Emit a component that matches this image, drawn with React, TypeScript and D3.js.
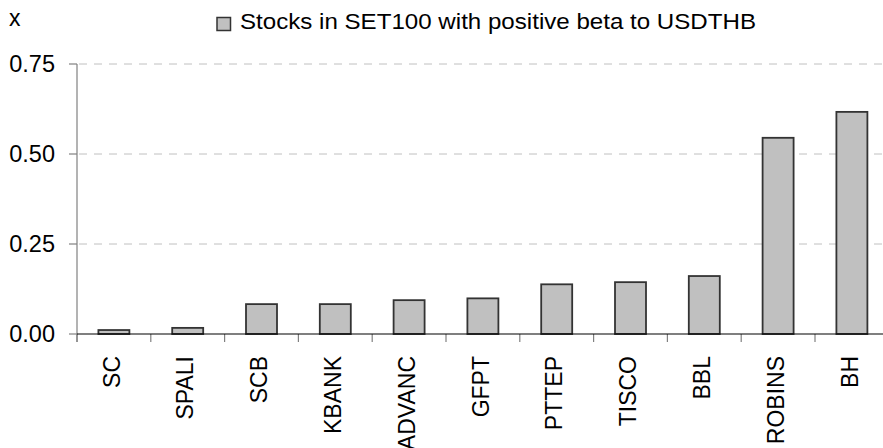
import React, { useRef, useEffect } from 'react';
import * as d3 from 'd3';

// ─── Data ────────────────────────────────────────────────────────────────────
const categories = ['SC', 'SPALI', 'SCB', 'KBANK', 'ADVANC', 'GFPT', 'PTTEP', 'TISCO', 'BBL', 'ROBINS', 'BH'];
const betaValues = [0.011, 0.017, 0.083, 0.083, 0.094, 0.099, 0.138, 0.144, 0.161, 0.545, 0.617];
const yTicks = [0, 0.25, 0.5, 0.75];
const seriesName = 'Stocks in SET100 with positive beta to USDTHB';
const unitLabel = 'x';

const WIDTH = 883;
const HEIGHT = 448;
const FONT = 'Arial, "Liberation Sans", sans-serif';

const BetaChart: React.FC = () => {
    const ref = useRef<SVGSVGElement | null>(null);

    useEffect(() => {
        if (!ref.current) return;
        const svg = d3.select(ref.current);
        svg.selectAll('*').remove();

        // ─── geometry ──────────────────────────────────────────────────────────
        const left = 77;
        const bandW = 73.8;
        const x = d3.scaleBand<string>()
            .domain(categories)
            .range([left, left + bandW * categories.length])
            .padding(0);
        const y = d3.scaleLinear().domain([0, 0.75]).range([334, 64]);
        const barW = x.bandwidth() * 0.42;
        const right = WIDTH;

        // ─── gridlines ─────────────────────────────────────────────────────────
        svg.append('g')
            .selectAll('line')
            .data(yTicks.filter(t => t > 0))
            .enter()
            .append('line')
            .attr('x1', left + 2)
            .attr('x2', right)
            .attr('y1', d => y(d))
            .attr('y2', d => y(d))
            .attr('stroke', '#c0c0c0')
            .attr('stroke-width', 1)
            .attr('stroke-dasharray', '8,7');

        // ─── bars ──────────────────────────────────────────────────────────────
        svg.append('g')
            .selectAll('rect')
            .data(betaValues)
            .enter()
            .append('rect')
            .attr('x', (_, i) => (x(categories[i]) as number) + (x.bandwidth() - barW) / 2)
            .attr('y', d => y(d))
            .attr('width', barW)
            .attr('height', d => y(0) - y(d))
            .attr('fill', '#c0c0c0')
            .attr('stroke', '#333333')
            .attr('stroke-width', 1.8);

        // ─── y axis ────────────────────────────────────────────────────────────
        const yAxis = svg.append('g');
        yAxis.append('line')
            .attr('x1', left).attr('x2', left)
            .attr('y1', y(0.75)).attr('y2', y(0) + 8)
            .attr('stroke', '#808080').attr('stroke-width', 1.2);
        yAxis.selectAll('line.tick')
            .data(yTicks)
            .enter()
            .append('line')
            .attr('class', 'tick')
            .attr('x1', left - 8).attr('x2', left)
            .attr('y1', d => y(d)).attr('y2', d => y(d))
            .attr('stroke', '#808080').attr('stroke-width', 1.2);
        yAxis.selectAll('text')
            .data(yTicks)
            .enter()
            .append('text')
            .attr('x', 55)
            .attr('y', d => y(d))
            .attr('dy', '0.35em')
            .attr('text-anchor', 'end')
            .style('font-family', FONT)
            .style('font-size', '23.5px')
            .style('fill', '#000')
            .text(d => d3.format('.2f')(d));

        // ─── x axis ────────────────────────────────────────────────────────────
        const xAxis = svg.append('g');
        xAxis.selectAll('line.tick')
            .data(d3.range(categories.length + 1))
            .enter()
            .append('line')
            .attr('class', 'tick')
            .attr('x1', i => left + i * x.bandwidth())
            .attr('x2', i => left + i * x.bandwidth())
            .attr('y1', y(0)).attr('y2', y(0) + 8)
            .attr('stroke', '#808080').attr('stroke-width', 1.2);
        xAxis.append('line')
            .attr('x1', left).attr('x2', right)
            .attr('y1', y(0)).attr('y2', y(0))
            .attr('stroke', '#000').attr('stroke-width', 1.2);
        xAxis.selectAll('text')
            .data(categories)
            .enter()
            .append('text')
            .attr('transform', d => `translate(${(x(d) as number) + x.bandwidth() / 2},356) rotate(-90)`)
            .attr('dy', '0.25em')
            .attr('text-anchor', 'end')
            .style('font-family', FONT)
            .style('font-size', '23px')
            .style('fill', '#000')
            .text(d => d);

        // ─── unit label + legend ───────────────────────────────────────────────
        svg.append('text')
            .attr('x', 9).attr('y', 26)
            .style('font-family', FONT)
            .style('font-size', '23px')
            .text(unitLabel);

        svg.append('rect')
            .attr('x', 217).attr('y', 17.5)
            .attr('width', 13.5).attr('height', 13)
            .attr('fill', '#c0c0c0')
            .attr('stroke', '#333333')
            .attr('stroke-width', 1.5);
        svg.append('text')
            .attr('x', 240).attr('y', 29.3)
            .attr('textLength', 516)
            .attr('lengthAdjust', 'spacingAndGlyphs')
            .style('font-family', FONT)
            .style('font-size', '22.5px')
            .text(seriesName);
    }, []);

    return (
        <svg
            ref={ref}
            width={WIDTH}
            height={HEIGHT}
            style={{ position: 'absolute', left: 0, top: 0, background: '#fff' }}
        />
    );
};

export default function App() {
    return <BetaChart />;
}
